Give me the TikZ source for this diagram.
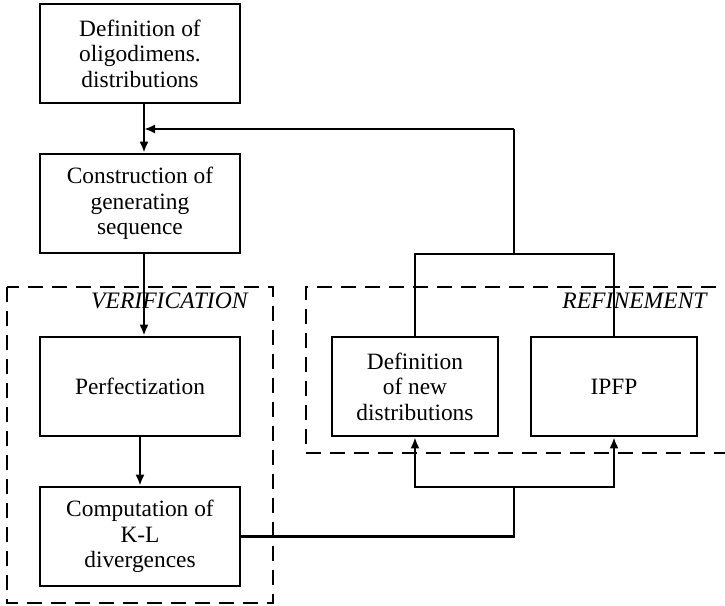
\documentclass[tikz,border=0pt]{standalone}
\usepackage{fontspec}
\setmainfont{Liberation Serif}
\usetikzlibrary{positioning, arrows.meta}

\begin{document}
\begin{tikzpicture}[x=0.5pt, y=-0.5pt,
          fbx/.style={rectangle, draw, line width=1.3pt, minimum width=100pt,
                      minimum height=49.5pt, align=center, inner sep=2pt,
                      font=\fontsize{11.7}{12.8}\selectfont},
          sbx/.style={fbx, minimum width=83pt},
          arr/.style={-{Latex[length=5.5pt, width=4.5pt]}, line width=1.1pt},
          lne/.style={line width=1.1pt},
          grp/.style={line width=1.4pt, dash pattern=on 7.5pt off 4.5pt},
          glabel/.style={font=\fontsize{11.8}{13}\selectfont\itshape,
                         anchor=base east, inner sep=0pt}
        ]
        \useasboundingbox (0,0) rectangle (725,606);

        % Main chain
        \node[fbx] (def)  at (140, 53.5)  {Definition of\\oligodimens.\\distributions};
        \node[fbx] (cons) at (140, 203.5) {Construction of\\generating\\sequence};
        \node[fbx] (perf) at (140, 386.5) {Perfectization};
        \node[fbx] (comp) at (140, 536.5) {Computation of\\K-L\\divergences};

        % Refinement boxes
        \node[sbx] (newd) at (415, 386.5) {Definition\\of new\\distributions};
        \node[sbx] (ipfp) at (614, 386.5) {IPFP};

        % Groups
        \draw[grp] (7,287) rectangle (273,603);
        \node[glabel] (verlab) at (248,308) {VERIFICATION};
        \draw[grp] (740,287) -- (306,287) -- (306,453) -- (740,453);
        \node[glabel] (reflab) at (707,308) {REFINEMENT};

        % Junction points
        \coordinate (split) at (514,487);
        \coordinate (join)  at (514,254);
        \coordinate (back)  at (514,129);
        \coordinate (entry) at (144,129);

        % Forward arrows
        \draw[arr] ([xshift=2pt]def.south) -- ([xshift=2pt]cons.north);
        \draw[arr] ([xshift=2pt]cons.south) -- ([xshift=2pt]perf.north);
        \draw[arr] (perf) -- (comp);

        % K-L result into refinement
        \draw[lne] (comp.east) -| (split);
        \draw[arr] (split) -| (newd.south);
        \draw[arr] (split) -| (ipfp.south);

        % Feedback to construction
        \draw[lne] (newd.north) |- (join) -| (ipfp.north);
        \draw[lne] (join) -- (back);
        \draw[arr] (back) -- (entry);
      \end{tikzpicture}
\end{document}
